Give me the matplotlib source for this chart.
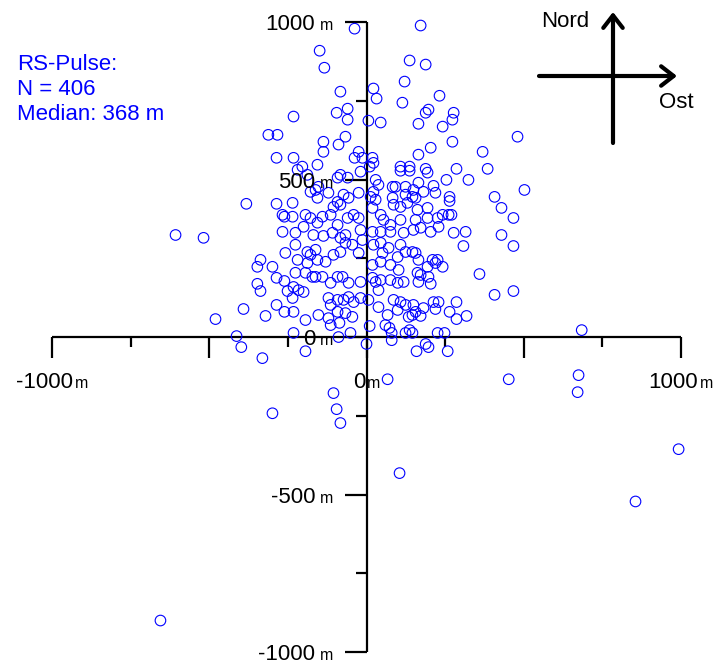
import matplotlib
matplotlib.use('Agg')
import matplotlib.pyplot as plt

plt.rcParams['font.family'] = ['Liberation Sans', 'DejaVu Sans']

# ---- data (metres east / north of the reference point) ----
east_m = [
    -38, 172, -149, -134, 137, 188, 121, -83, 22, 32, 232, 114, 188, 197, -95, -60, -60, 6, -232, 277, 273, 45,
    -312, -283, -286, -382, -286, -267, -261, -267, -607, -518,
    -137, -89, -67, -137, -25, -38, -13, 19, 22, -232, -204, -156, -219, 108, 137, 108, 137, -19, 10, -83, -92, -60,
    -188, 29, 38, 83, 92, 124, -162, -153, -178, -25, 13, 22, -156, -73, -57, -121, -92, -105, -83, -235, -235, -194,
    -178, -140, -114, -60, -41, -25, 29, 19, 83, 86, 108, 124, 130, 54, 45, 76, 108, 118, -156, -200, -92, -108, -67,
    -19, 19, 45, 76, -226, -169, -137, -83,
    165, 242, 273, 204, 165, 480, 369, 385, 286, 188, 194, 254, 324, 165, 213, 181, 219, 149, 146, 156, 264, 264, 502,
    407, 429, 467, 194, 242, 226, 261, 270, 162, 194, 156, 229, 172, 204, 277, 315, 429, 149,
    -258, -337, -347, -299, -286, -261, -347, -337, -251, -391, -286, -321, -261, -480,
    -226, -219, -188, -178, -162, -156, -130, -105, -83, -67, -45, -25, -13, 22, 45, 51, 70, 108, 124, 99, 45, 19, 76,
    102, -226, -194, -172, -162, -140, -114, -92, -76, -57, -19, 19, 29, 45, 38, 76, 99, 118, -232, -200, -216, -235,
    -232, -194, -153, -121, -114, -92, -73, -57, -41, -19, -92, -67, -45, -121, 6, 38, 67, 86, 108, 99, 124, 134, -188,
    467, 308, 359, 407, 467, 146, 156, 165, 210, 219, 226, 242, 194, 162, 172, 197, 165, 204, 213, 229, 286, 219, 181,
    149, 156, 146, 172, 264, 286, 318,
    -413, -398, -331, -232, -194, -114, -86, -89, -51, 0, 10, 60, 73, 80, 80, 124, 137, 146, 159, 188, 197, 226, 248,
    258, 684, 452, 674, 671, 67, -105,
    -299, -95, -83, 105, 992, 855, -655,
]
north_m = [
    979, 989, 909, 855, 878, 865, 811, 779, 789, 757, 766, 744, 712, 722, 712, 725, 690, 687, 700, 712, 690, 681,
    642, 642, 569, 423, 423, 388, 382, 334, 324, 315,
    620, 611, 636, 588, 588, 569, 569, 569, 553, 569, 541, 547, 531, 541, 541, 528, 528, 525, 541, 515, 506, 506,
    515, 499, 483, 477, 477, 477, 467, 477, 461, 458, 445, 461, 442, 452, 442, 458, 429, 413, 420, 426, 382, 388,
    378, 382, 388, 378, 388, 378, 436, 410, 442, 420, 413, 452, 426, 372, 388, 356, 372, 331, 363, 350, 356, 331, 324,
    340, 334, 334, 334, 331, 324, 321, 315,
    677, 668, 620, 601, 579, 636, 588, 534, 534, 534, 522, 499, 499, 490, 480, 461, 458, 467, 445, 442, 445, 432, 467,
    445, 410, 378, 410, 388, 378, 388, 388, 404, 378, 372, 350, 347, 334, 331, 334, 324, 340,
    267, 245, 223, 223, 188, 178, 169, 146, 146, 89, 102, 67, 80, 57,
    293, 245, 270, 261, 277, 245, 239, 261, 270, 299, 293, 267, 308, 293, 299, 267, 283, 293, 270, 254, 239, 229, 229,
    213, 204, 204, 191, 191, 191, 172, 191, 191, 172, 175, 188, 175, 181, 149, 181, 172, 175, 159, 143, 149, 124,
    80, 54, 70, 124, 102, 118, 118, 127, 111, 124, 80, 76, 64, 60, 118, 95, 70, 118, 111, 86, 102, 64, 235,
    289, 289, 200, 134, 146, 270, 267, 245, 245, 235, 245, 223, 223, 204, 197, 191, 175, 169, 111, 111, 111, 89, 92,
    102, 80, 70, 67, 80, 57, 67,
    3, -32, -67, 13, -45, 38, 45, 0, 13, -22, 35, 38, 29, 13, -10, 13, 22, 13, -45, -22, -32, 13, 13,
    -45, 22, -134, -121, -175, -134, -178,
    -242, -229, -273, -432, -356, -522, -900,
]

tick_values = [-1000, -750, -500, -250, 0, 250, 500, 750, 1000]
x_label_values = [-1000, 0, 1000]
y_label_values = [1000, 500, 0, -500, -1000]
info_lines = ["RS-Pulse:", "N = 406", "Median: 368 m"]
compass_labels = ["Nord", "Ost"]

W, H = 717, 664
fig = plt.figure(figsize=(W / 100, H / 100), dpi=100)
ax = fig.add_axes([0, 0, 1, 1])
ax.set_xlim(-1165, 1114)
ax.set_ylim(-1038, 1070)
ax.axis('off')

# axes through origin
ax.plot([-1000, 1000], [0, 0], color='black', lw=1.6, solid_capstyle='butt', zorder=2)
ax.plot([0, 0], [-1000, 1000], color='black', lw=1.6, solid_capstyle='butt', zorder=2)
for v in tick_values:
    ln = 67 if v % 500 == 0 else 32
    ax.plot([v, v], [0, -ln], color='black', lw=1.6, solid_capstyle='butt', zorder=2)
    ax.plot([0, -ln], [v, v], color='black', lw=1.6, solid_capstyle='butt', zorder=2)

ax.scatter(east_m, north_m, s=58, facecolors='none', edgecolors='#0000ff',
           linewidths=0.8, zorder=3)

renderer = fig.canvas.get_renderer()


def unit_label(val, xy, mode):
    num = ax.annotate(f"{val}", xy=xy, xycoords='data', textcoords='offset pixels',
                      xytext=(0, 0), ha='left', va='baseline', fontsize=16, zorder=5)
    unit = ax.annotate("m", xy=xy, xycoords='data', textcoords='offset pixels',
                       xytext=(0, 0), ha='left', va='baseline', fontsize=11.5, zorder=5)
    wn = num.get_window_extent(renderer).width
    wm = unit.get_window_extent(renderer).width
    if mode == 'x':
        gap = 2
        total = wn + gap + wm
        num.xyann = (-total / 2, -51)
        unit.xyann = (-total / 2 + wn + gap, -51)
    else:
        gap = 5
        unit.xyann = (-33 - wm, -8)
        num.xyann = (-33 - wm - gap - wn, -8)


for v in x_label_values:
    unit_label(v, (v, 0), 'x')
for v in y_label_values:
    unit_label(v, (0, v), 'y')

# info text
for i, line in enumerate(info_lines):
    fig.text(17 / W, 1 - (70 + 25 * i) / H, line, ha='left', va='baseline',
             fontsize=16, color='#0000ff')

# compass
arrow_kw = dict(arrowstyle='->,head_length=0.9,head_width=0.7', lw=3, color='black',
                shrinkA=0, shrinkB=0, mutation_scale=10)
ax.annotate('', xy=(613, H - 12), xytext=(613, H - 143), xycoords='figure pixels',
            textcoords='figure pixels', arrowprops=arrow_kw)
ax.annotate('', xy=(677, H - 76), xytext=(539, H - 76), xycoords='figure pixels',
            textcoords='figure pixels', arrowprops=arrow_kw)
fig.text(541 / W, 1 - 27 / H, compass_labels[0], ha='left', va='baseline', fontsize=16)
fig.text(659 / W, 1 - 108 / H, compass_labels[1], ha='left', va='baseline', fontsize=16)

fig.savefig('out.png', dpi=100)
